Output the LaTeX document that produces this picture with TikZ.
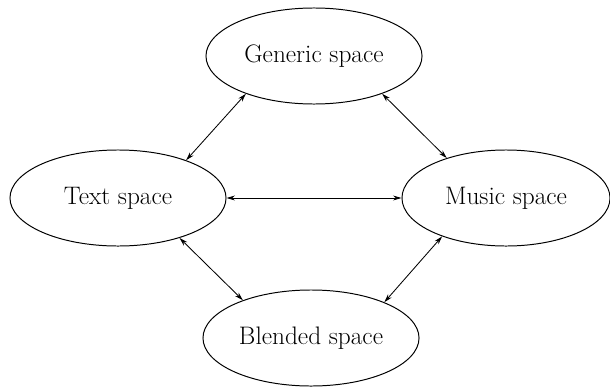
\documentclass[tikz,border=0pt]{standalone}
\usepackage{tikz}
\usetikzlibrary{shapes.geometric}
\usetikzlibrary{arrows.meta}
\tikzset{space/.style={ellipse,draw,line width=0.7pt,minimum width=5.4cm,minimum height=2.4cm,inner sep=0pt,font=\fontsize{18}{21}\selectfont}}
\tikzset{link/.style={{Stealth[length=6pt,width=3.5pt]}-{Stealth[length=6pt,width=3.5pt]},line width=0.6pt}}

\begin{document}
\begin{tikzpicture}[x=0.025cm,y=-0.025cm]
\useasboundingbox (0,0) rectangle (610,388);
\node[space] (gen) at (314,56) {Generic space};
\node[space] (txt) at (118,198) {Text space};
\node[space,minimum width=5.2cm] (mus) at (506,198) {Music space};
\node[space] (bld) at (311,338) {Blended space};
\draw[link] (gen.209) -- (txt.29);
\draw[link] (gen.331) -- (mus.146);
\draw[link] (txt.east) -- (mus.west);
\draw[link] (txt.327) -- (bld.151);
\draw[link] (mus.211) -- (bld.26);
\end{tikzpicture}
\end{document}
